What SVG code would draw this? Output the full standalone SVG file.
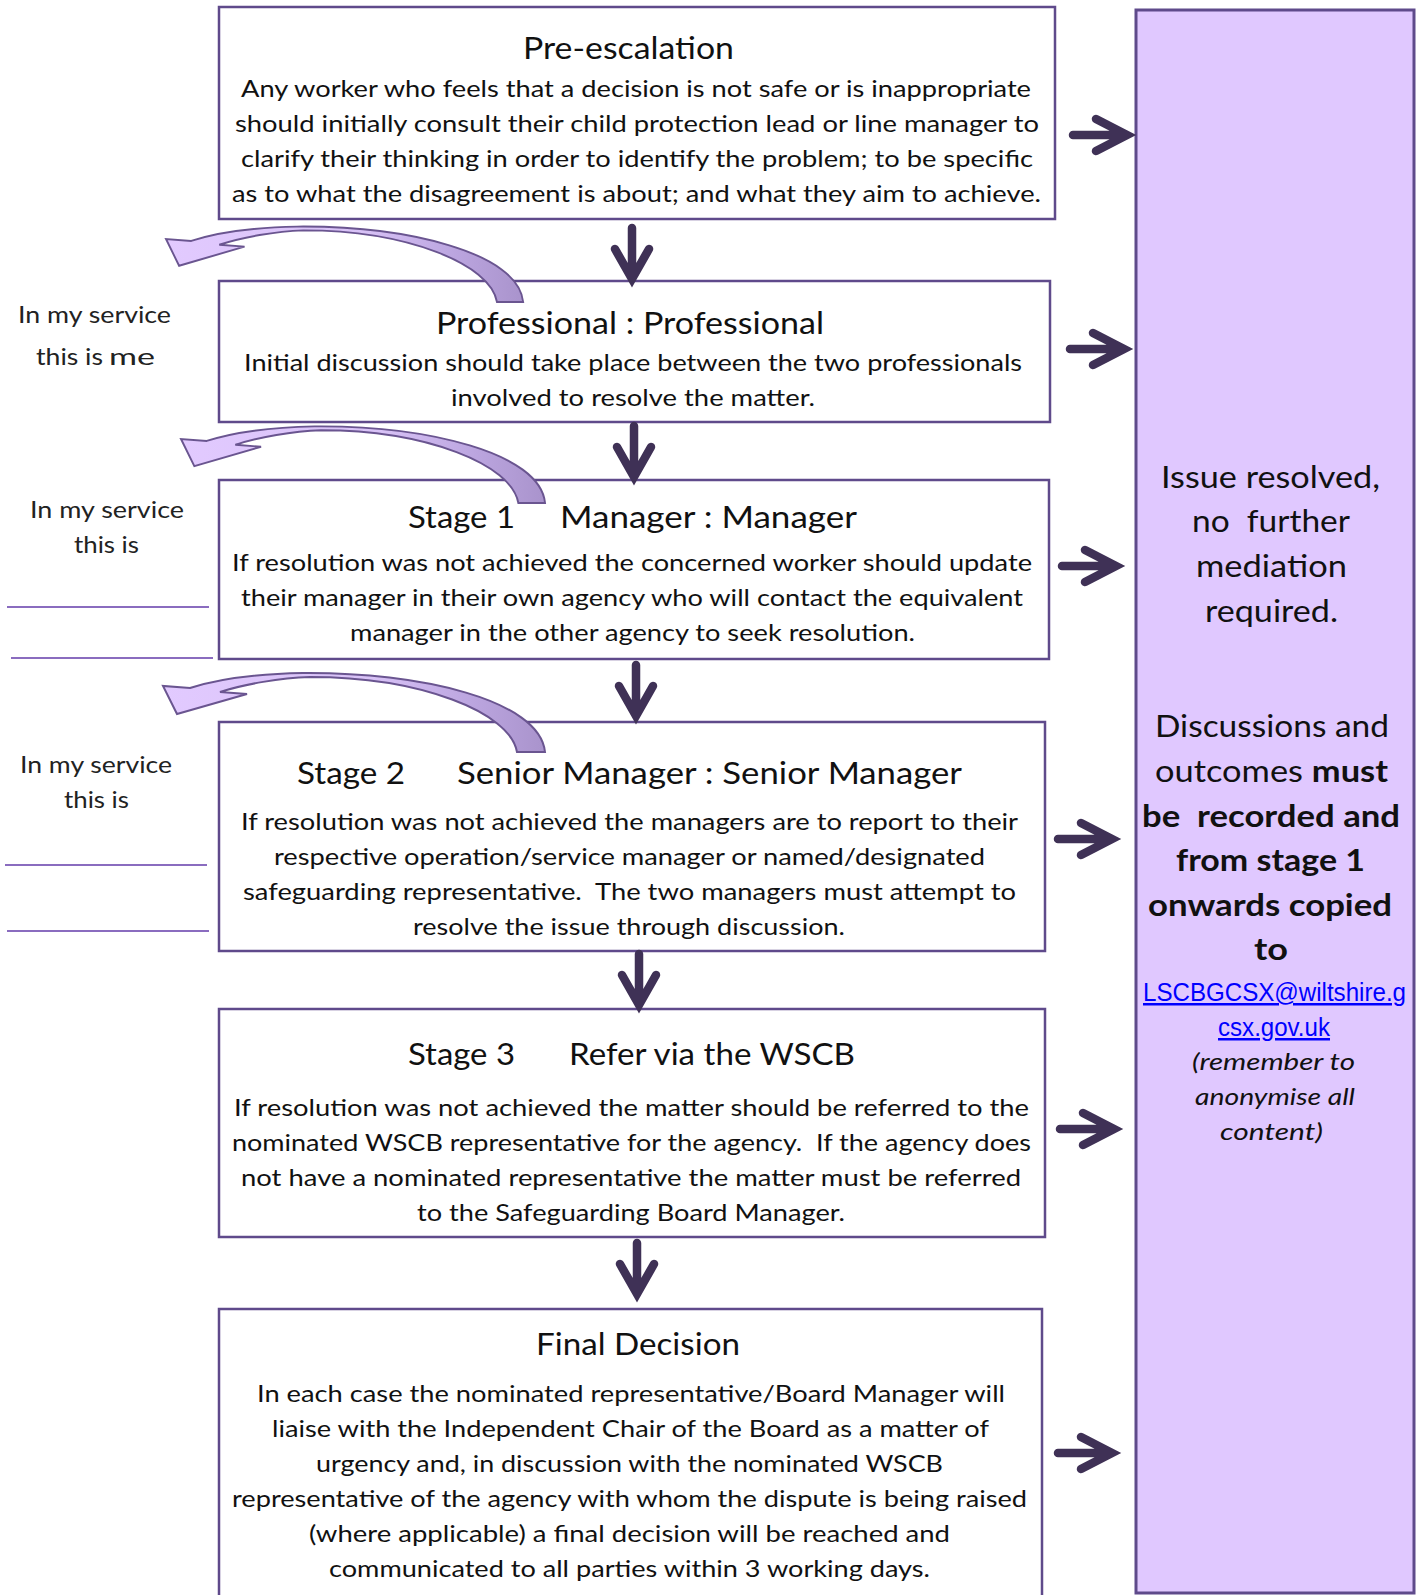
<svg xmlns="http://www.w3.org/2000/svg" width="1420" height="1595" viewBox="0 0 1420 1595">
<defs>
<style>
.box{fill:#ffffff;stroke:#5f4a8b;stroke-width:2.5}
.t{font-family:Lato,"Open Sans","Liberation Sans",sans-serif;font-size:24px;fill:#111}
.h{font-family:Lato,"Open Sans","Liberation Sans",sans-serif;font-size:31px;fill:#111}
.side{font-family:Lato,"Open Sans","Liberation Sans",sans-serif;font-size:24px;fill:#222}
.r{font-family:Lato,"Open Sans","Liberation Sans",sans-serif;font-size:31px;fill:#111}
.rb{font-family:Lato,"Open Sans","Liberation Sans",sans-serif;font-size:31px;font-weight:bold;fill:#111}
.ri{font-family:Lato,"Open Sans","Liberation Sans",sans-serif;font-size:24px;font-style:italic;fill:#111}
.link{font-family:"Liberation Sans",Arial,sans-serif;font-size:25px;fill:#0000ff;text-decoration:underline}
.arr{fill:none;stroke:#3f3156;stroke-width:8.5;stroke-linecap:round;stroke-linejoin:miter}
.uline{stroke:#8a6cbf;stroke-width:2.2}
.curve{fill:url(#cg);stroke:#6a5590;stroke-width:2;stroke-linejoin:miter}
</style>
<linearGradient id="cg" x1="0" y1="0" x2="1" y2="0">
<stop offset="0" stop-color="#e2caff"/>
<stop offset="0.55" stop-color="#d8c2f6"/>
<stop offset="0.8" stop-color="#bca6e0"/>
<stop offset="1" stop-color="#a993cc"/>
</linearGradient>
<path id="curveArrow" class="curve" d="M 382 66 C 377 14 257 -14 140 -13 C 87 -12 52 -6 27 2 L 0 0 L 14 28 L 84 8 L 57 6 C 82 -2 117 -8 147 -9 C 257 -9 347 26 354 66 Z"/>
<path id="downArrow" class="arr" d="M 0 0 V 50 M -17 21 L 0 51 L 17 21"/>
<path id="rightArrow" class="arr" d="M 0 0 H 53 M 23 -16 L 54 0 L 23 16"/>
</defs>

<g id="side-panel">
<rect x="1136" y="10" width="278" height="1583" fill="#e0c8ff" stroke="#5f4a8b" stroke-width="3"/>
<text class="r" x="1161" y="488" textLength="219" lengthAdjust="spacingAndGlyphs">Issue resolved,</text>
<text class="r" x="1192" y="532" textLength="158" lengthAdjust="spacingAndGlyphs" xml:space="preserve">no  further</text>
<text class="r" x="1196" y="577" textLength="151" lengthAdjust="spacingAndGlyphs">mediation</text>
<text class="r" x="1205" y="622" textLength="133" lengthAdjust="spacingAndGlyphs">required.</text>
<text class="r" x="1155" y="737" textLength="234" lengthAdjust="spacingAndGlyphs">Discussions and</text>
<text class="r" x="1155" y="782" textLength="233" lengthAdjust="spacingAndGlyphs">outcomes <tspan font-weight="bold">must</tspan></text>
<text class="rb" x="1142" y="827" textLength="258" lengthAdjust="spacingAndGlyphs" xml:space="preserve">be  recorded and</text>
<text class="rb" x="1176" y="871" textLength="189" lengthAdjust="spacingAndGlyphs">from stage 1</text>
<text class="rb" x="1148" y="916" textLength="244" lengthAdjust="spacingAndGlyphs">onwards copied</text>
<text class="rb" x="1254" y="960" textLength="34" lengthAdjust="spacingAndGlyphs">to</text>
<text class="link" x="1143" y="1001" textLength="263" lengthAdjust="spacingAndGlyphs">LSCBGCSX@wiltshire.g</text>
<text class="link" x="1218" y="1036" textLength="112" lengthAdjust="spacingAndGlyphs">csx.gov.uk</text>
<text class="ri" x="1192" y="1070" textLength="163" lengthAdjust="spacingAndGlyphs">(remember to</text>
<text class="ri" x="1195" y="1105" textLength="160" lengthAdjust="spacingAndGlyphs">anonymise all</text>
<text class="ri" x="1220" y="1140" textLength="103" lengthAdjust="spacingAndGlyphs">content)</text>
</g>

<g id="pre-escalation">
<rect class="box" x="219" y="7" width="836" height="212"/>
<text class="h" x="523" y="59" textLength="211" lengthAdjust="spacingAndGlyphs">Pre-escalation</text>
<text class="t" x="241" y="97" textLength="790" lengthAdjust="spacingAndGlyphs">Any worker who feels that a decision is not safe or is inappropriate</text>
<text class="t" x="235" y="132" textLength="804" lengthAdjust="spacingAndGlyphs">should initially consult their child protection lead or line manager to</text>
<text class="t" x="241" y="167" textLength="792" lengthAdjust="spacingAndGlyphs">clarify their thinking in order to identify the problem; to be specific</text>
<text class="t" x="232" y="202" textLength="809" lengthAdjust="spacingAndGlyphs">as to what the disagreement is about; and what they aim to achieve.</text>
</g>

<g id="professional">
<rect class="box" x="219" y="281" width="831" height="141"/>
<text class="h" x="436" y="334" textLength="388" lengthAdjust="spacingAndGlyphs">Professional : Professional</text>
<text class="t" x="244" y="371" textLength="778" lengthAdjust="spacingAndGlyphs">Initial discussion should take place between the two professionals</text>
<text class="t" x="451" y="406" textLength="364" lengthAdjust="spacingAndGlyphs">involved to resolve the matter.</text>
</g>

<g id="stage1">
<rect class="box" x="219" y="480" width="830" height="179"/>
<text class="h" x="408" y="528" textLength="107" lengthAdjust="spacingAndGlyphs">Stage 1</text>
<text class="h" x="560" y="528" textLength="297" lengthAdjust="spacingAndGlyphs">Manager : Manager</text>
<text class="t" x="232" y="571" textLength="800" lengthAdjust="spacingAndGlyphs">If resolution was not achieved the concerned worker should update</text>
<text class="t" x="241" y="606" textLength="782" lengthAdjust="spacingAndGlyphs">their manager in their own agency who will contact the equivalent</text>
<text class="t" x="350" y="641" textLength="565" lengthAdjust="spacingAndGlyphs">manager in the other agency to seek resolution.</text>
</g>

<g id="stage2">
<rect class="box" x="219" y="722" width="826" height="229"/>
<text class="h" x="297" y="784" textLength="108" lengthAdjust="spacingAndGlyphs">Stage 2</text>
<text class="h" x="457" y="784" textLength="505" lengthAdjust="spacingAndGlyphs">Senior Manager : Senior Manager</text>
<text class="t" x="241" y="830" textLength="777" lengthAdjust="spacingAndGlyphs">If resolution was not achieved the managers are to report to their</text>
<text class="t" x="274" y="865" textLength="711" lengthAdjust="spacingAndGlyphs">respective operation/service manager or named/designated</text>
<text class="t" x="243" y="900" textLength="773" lengthAdjust="spacingAndGlyphs" xml:space="preserve">safeguarding representative.  The two managers must attempt to</text>
<text class="t" x="413" y="935" textLength="432" lengthAdjust="spacingAndGlyphs">resolve the issue through discussion.</text>
</g>

<g id="stage3">
<rect class="box" x="219" y="1009" width="826" height="228"/>
<text class="h" x="408" y="1065" textLength="107" lengthAdjust="spacingAndGlyphs">Stage 3</text>
<text class="h" x="569" y="1065" textLength="286" lengthAdjust="spacingAndGlyphs">Refer via the WSCB</text>
<text class="t" x="234" y="1116" textLength="795" lengthAdjust="spacingAndGlyphs">If resolution was not achieved the matter should be referred to the</text>
<text class="t" x="232" y="1151" textLength="799" lengthAdjust="spacingAndGlyphs" xml:space="preserve">nominated WSCB representative for the agency.  If the agency does</text>
<text class="t" x="241" y="1186" textLength="780" lengthAdjust="spacingAndGlyphs">not have a nominated representative the matter must be referred</text>
<text class="t" x="417" y="1221" textLength="428" lengthAdjust="spacingAndGlyphs">to the Safeguarding Board Manager.</text>
</g>

<g id="final-decision">
<rect class="box" x="219" y="1309" width="823" height="300"/>
<text class="h" x="536" y="1355" textLength="204" lengthAdjust="spacingAndGlyphs">Final Decision</text>
<text class="t" x="257" y="1402" textLength="748" lengthAdjust="spacingAndGlyphs">In each case the nominated representative/Board Manager will</text>
<text class="t" x="272" y="1437" textLength="717" lengthAdjust="spacingAndGlyphs">liaise with the Independent Chair of the Board as a matter of</text>
<text class="t" x="316" y="1472" textLength="627" lengthAdjust="spacingAndGlyphs">urgency and, in discussion with the nominated WSCB</text>
<text class="t" x="232" y="1507" textLength="795" lengthAdjust="spacingAndGlyphs">representative of the agency with whom the dispute is being raised</text>
<text class="t" x="309" y="1542" textLength="641" lengthAdjust="spacingAndGlyphs">(where applicable) a final decision will be reached and</text>
<text class="t" x="329" y="1577" textLength="601" lengthAdjust="spacingAndGlyphs">communicated to all parties within 3 working days.</text>
</g>

<g id="service-notes">
<text class="side" x="18" y="323" textLength="153" lengthAdjust="spacingAndGlyphs">In my service</text>
<text class="side" x="36" y="365" textLength="67" lengthAdjust="spacingAndGlyphs">this is</text>
<text class="side" x="109" y="365" font-size="32" textLength="46" lengthAdjust="spacingAndGlyphs">me</text>
<text class="side" x="30" y="518" textLength="154" lengthAdjust="spacingAndGlyphs">In my service</text>
<text class="side" x="74" y="553" textLength="65" lengthAdjust="spacingAndGlyphs">this is</text>
<line class="uline" x1="7" y1="607" x2="209" y2="607"/>
<line class="uline" x1="11" y1="658" x2="213" y2="658"/>
<text class="side" x="20" y="773" textLength="152" lengthAdjust="spacingAndGlyphs">In my service</text>
<text class="side" x="64" y="808" textLength="65" lengthAdjust="spacingAndGlyphs">this is</text>
<line class="uline" x1="5" y1="865" x2="207" y2="865"/>
<line class="uline" x1="7" y1="931" x2="209" y2="931"/>
</g>

<g id="connectors">
<use href="#curveArrow" transform="translate(166,239) scale(0.935,0.955)"/>
<use href="#curveArrow" transform="translate(181,439) scale(0.953,0.97)"/>
<use href="#curveArrow" transform="translate(163,686)"/>
<use href="#downArrow" x="632" y="228"/>
<use href="#downArrow" x="634" y="426"/>
<use href="#downArrow" x="636" y="665"/>
<use href="#downArrow" x="639" y="954"/>
<use href="#downArrow" x="637" y="1243"/>
<use href="#rightArrow" x="1073" y="135"/>
<use href="#rightArrow" x="1070" y="349"/>
<use href="#rightArrow" x="1062" y="566"/>
<use href="#rightArrow" x="1058" y="839"/>
<use href="#rightArrow" x="1060" y="1129"/>
<use href="#rightArrow" x="1058" y="1453"/>
</g>
</svg>
